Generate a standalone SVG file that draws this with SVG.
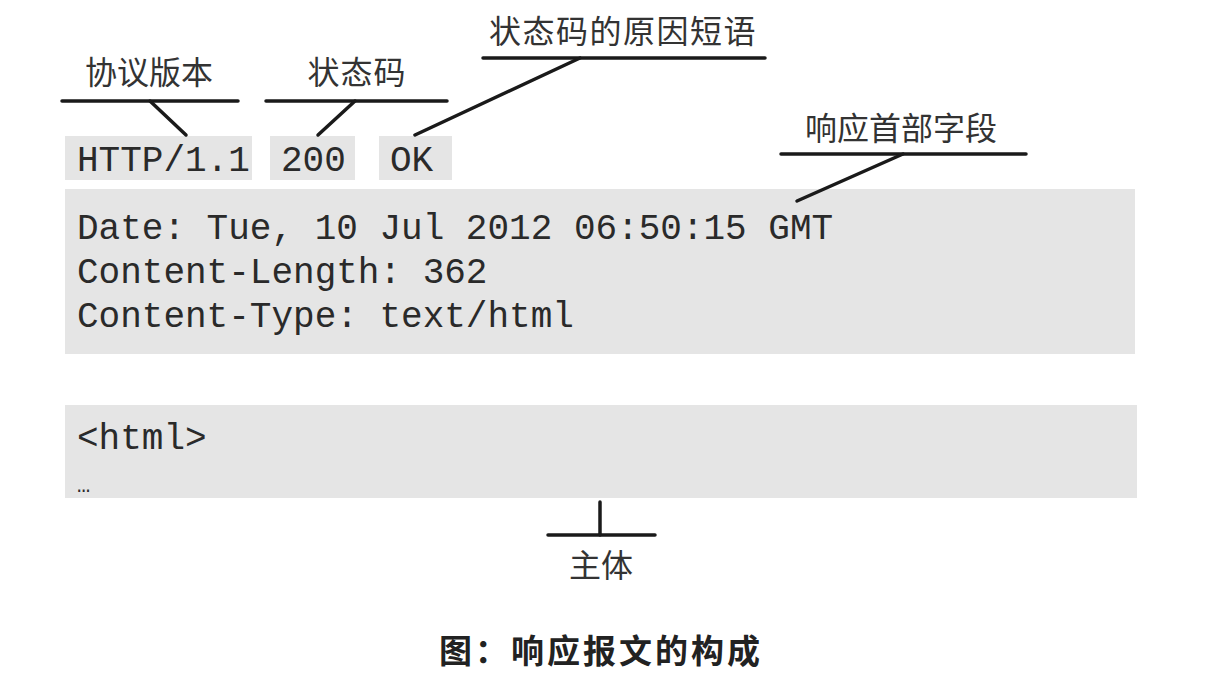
<svg xmlns="http://www.w3.org/2000/svg" width="1207" height="688" viewBox="0 0 1207 688">
<style>
.box{fill:#e5e5e5}
.mono{font-family:"Liberation Mono","Courier New",monospace;font-size:36px;fill:#2a2a2a}
.lbl{font-family:"Noto Sans CJK SC","Noto Sans",sans-serif;font-size:32px;fill:#333}
.ln{stroke:#1a1a1a;stroke-width:3.5;fill:none;stroke-linecap:round}
.title{font-family:"Noto Sans CJK SC","Noto Sans",sans-serif;font-size:33px;font-weight:bold;fill:#222;letter-spacing:3px}
</style>
<rect width="1207" height="688" fill="#fff"/>
<g id="version">
<rect class="box" x="65" y="136" width="187" height="44"/>
<text class="mono" x="77" y="171">HTTP/1.1</text>
</g>
<g id="status">
<rect class="box" x="270" y="136" width="85" height="44"/>
<text class="mono" x="281" y="171">200</text>
</g>
<g id="reason">
<rect class="box" x="379" y="136" width="73" height="44"/>
<text class="mono" x="390" y="171">OK</text>
</g>
<g id="headers">
<rect class="box" x="65" y="189" width="1070" height="165"/>
<text class="mono" x="77" y="239">Date: Tue, 10 Jul 2012 06:50:15 GMT</text>
<text class="mono" x="77" y="283">Content-Length: 362</text>
<text class="mono" x="77" y="327">Content-Type: text/html</text>
</g>
<g id="body">
<rect class="box" x="65" y="405" width="1072" height="93"/>
<text class="mono" x="77" y="449">&lt;html&gt;</text>
<text class="mono" x="77" y="492" style="font-size:22px">…</text>
</g>
<g id="label-version">
<text class="lbl" x="149" y="84" text-anchor="middle">协议版本</text>
</g>
<g id="label-status">
<text class="lbl" x="357" y="84" text-anchor="middle" letter-spacing="1">状态码</text>
</g>
<g id="label-reason">
<text class="lbl" x="623" y="43" text-anchor="middle" letter-spacing="1.5">状态码的原因短语</text>
</g>
<g id="label-headers">
<text class="lbl" x="901" y="140" text-anchor="middle">响应首部字段</text>
</g>
<g id="label-body">
<text class="lbl" x="601" y="577" text-anchor="middle">主体</text>
</g>
<g id="connectors">
<line class="ln" x1="62" y1="101" x2="238" y2="101"/>
<line class="ln" x1="150" y1="101" x2="186" y2="135"/>
<line class="ln" x1="266" y1="101" x2="447" y2="101"/>
<line class="ln" x1="355" y1="101" x2="318" y2="135"/>
<line class="ln" x1="483" y1="58" x2="765" y2="58"/>
<line class="ln" x1="580" y1="58" x2="415" y2="135"/>
<line class="ln" x1="781" y1="154" x2="1026" y2="154"/>
<line class="ln" x1="903" y1="154" x2="797" y2="201"/>
<line class="ln" x1="600" y1="502" x2="600" y2="535"/>
<line class="ln" x1="548" y1="535" x2="655" y2="535"/>
</g>
<g id="caption">
<text class="title" x="601" y="663" text-anchor="middle">图：响应报文的构成</text>
</g>
</svg>
